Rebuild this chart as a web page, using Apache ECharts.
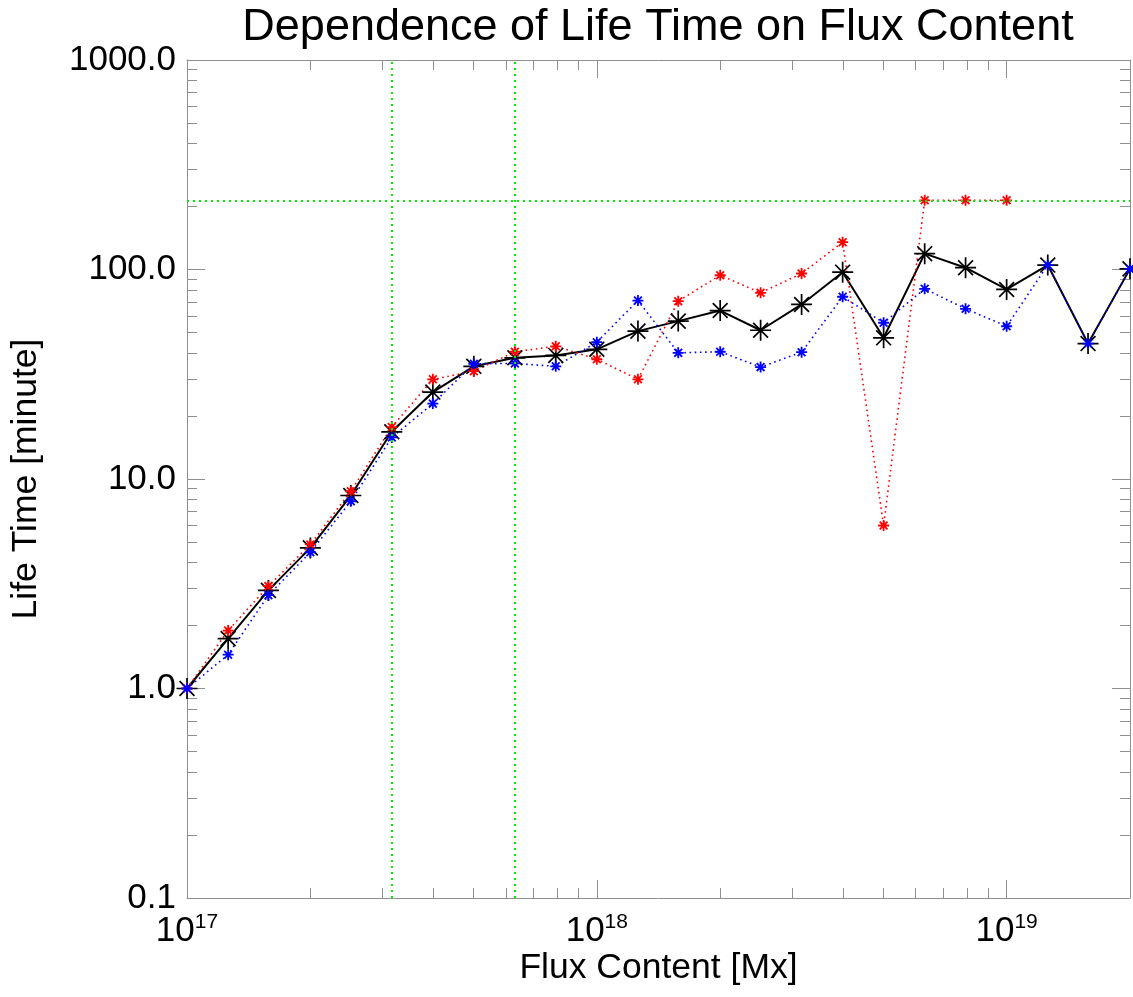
<!DOCTYPE html>
<html>
<head>
<meta charset="utf-8">
<title>Dependence of Life Time on Flux Content</title>
<script src="https://cdn.jsdelivr.net/npm/echarts@6/dist/echarts.min.js"></script>
<style>
  html, body { margin: 0; padding: 0; background: #fff; }
  #chart { width: 1133px; height: 997px; }
</style>
</head>
<body>
<div id="chart"></div>
<script>
// Flux bins [Mx]
const flux = [
  1.00e17, 1.26e17, 1.58e17, 2.00e17, 2.51e17, 3.16e17, 3.98e17, 5.01e17,
  6.31e17, 7.94e17, 1.00e18, 1.26e18, 1.58e18, 2.00e18, 2.51e18, 3.16e18,
  3.98e18, 5.01e18, 6.31e18, 7.94e18, 1.00e19, 1.26e19, 1.58e19, 2.00e19
];

// Life time [minute] per flux bin
const lifeAll = [
  1.0, 1.73, 2.94, 4.69, 8.34, 16.8, 26.0, 34.5,
  37.9, 38.9, 41.6, 50.8, 56.7, 63.7, 51.3, 68.1,
  97.1, 47.2, 119, 102, 80.3, 105, 44.3, 100.7
];
const lifeRed = [
  1.0, 1.89, 3.08, 4.87, 8.74, 17.7, 29.9, 32.7,
  40.5, 43.0, 37.3, 29.9, 70.6, 93.9, 77.4, 95.7,
  135, 6.0, 214, 214, 214
];
const lifeBlue = [
  1.0, 1.45, 2.79, 4.47, 7.83, 15.8, 22.9, 35.5,
  35.6, 34.5, 45.0, 71.1, 40.0, 40.5, 34.2, 40.3,
  74.1, 55.7, 80.9, 64.9, 53.6, 105, 44.3, 100.7
];

// Reference levels
const fluxMarks = [3.16e17, 6.31e17];
const lifeMark = 214;

// Axis ticks
const xMajorTicks = [1e17, 1e18, 1e19];
const xMinorTicks = [
  2e17, 3e17, 4e17, 5e17, 6e17, 7e17, 8e17, 9e17,
  2e18, 3e18, 4e18, 5e18, 6e18, 7e18, 8e18, 9e18, 2e19
];
const yMajorTicks = [0.1, 1, 10, 100, 1000];
const yMinorTicks = [
  0.2, 0.3, 0.4, 0.5, 0.6, 0.7, 0.8, 0.9,
  2, 3, 4, 5, 6, 7, 8, 9,
  20, 30, 40, 50, 60, 70, 80, 90,
  200, 300, 400, 500, 600, 700, 800, 900
];

const FONT = "'Liberation Sans', Arial, Helvetica, sans-serif";
const AXIS_GRAY = '#8f8f8f';
const STAR = 'path://M0,10L20,10M10,0L10,20M2.93,2.93L17.07,17.07M17.07,2.93L2.93,17.07';

const zip = (xs, ys) => ys.map((y, i) => [xs[i], y]);

function xAxisDef(position, ticks, len, withLine, withLabels) {
  return {
    type: 'log', logBase: 10, position: position,
    min: 1e17, max: 2e19,
    axisLine: { show: withLine, onZero: false, lineStyle: { color: AXIS_GRAY, width: 1 } },
    axisTick: { show: true, inside: true, length: len, customValues: ticks,
                lineStyle: { color: AXIS_GRAY, width: 1 } },
    axisLabel: withLabels ? {
      show: true, customValues: ticks, margin: 14,
      formatter: v => '{b|10}{s|' + Math.round(Math.log10(v)) + '}',
      rich: {
        b: { fontFamily: FONT, fontSize: 35, color: '#000', lineHeight: 38 },
        s: { fontFamily: FONT, fontSize: 21, color: '#000', lineHeight: 22, verticalAlign: 'top' }
      }
    } : { show: false },
    splitLine: { show: false },
    minorTick: { show: false },
    name: withLabels ? 'Flux Content [Mx]' : '',
    nameLocation: 'middle', nameGap: 52, nameMoveOverlap: false,
    nameTextStyle: { fontFamily: FONT, fontSize: 35.5, color: '#000' }
  };
}

function yAxisDef(position, ticks, len, withLine, withLabels) {
  return {
    type: 'log', logBase: 10, position: position,
    min: 0.1, max: 1000,
    axisLine: { show: withLine, onZero: false, lineStyle: { color: AXIS_GRAY, width: 1 } },
    axisTick: { show: true, inside: true, length: len, customValues: ticks,
                lineStyle: { color: AXIS_GRAY, width: 1 } },
    axisLabel: withLabels ? {
      show: true, customValues: ticks, margin: 11,
      formatter: v => Number(v).toFixed(1),
      fontFamily: FONT, fontSize: 35, color: '#000'
    } : { show: false },
    splitLine: { show: false },
    minorTick: { show: false },
    name: withLabels ? 'Life Time [minute]' : '',
    nameLocation: 'middle', nameGap: 143, nameMoveOverlap: false,
    nameTextStyle: { fontFamily: FONT, fontSize: 35.5, color: '#000' }
  };
}

const chart = echarts.init(document.getElementById('chart'), null, { renderer: 'canvas' });

chart.setOption({
  animation: false,
  backgroundColor: '#fff',
  graphic: [{
    type: 'text', x: 658, y: 5, silent: true,
    style: {
      text: 'Dependence of Life Time on Flux Content',
      font: '45px ' + FONT, fill: '#000',
      textAlign: 'center', textVerticalAlign: 'top'
    }
  }],
  grid: { left: 187, right: 3, top: 60, bottom: 99, outerBoundsMode: 'none' },
  xAxis: [
    xAxisDef('bottom', xMajorTicks, 18, true, true),
    xAxisDef('bottom', xMinorTicks, 10, false, false),
    xAxisDef('top', xMajorTicks, 18, true, false),
    xAxisDef('top', xMinorTicks, 10, false, false)
  ],
  yAxis: [
    yAxisDef('left', yMajorTicks, 18, true, true),
    yAxisDef('left', yMinorTicks, 10, false, false),
    yAxisDef('right', yMajorTicks, 18, true, false),
    yAxisDef('right', yMinorTicks, 10, false, false)
  ],
  series: [
    {
      name: 'all', type: 'line', xAxisIndex: 0, yAxisIndex: 0,
      data: zip(flux, lifeAll),
      symbol: STAR, symbolSize: 21, showSymbol: true,
      lineStyle: { color: '#000', width: 2 },
      itemStyle: { color: '#000', borderColor: '#000', borderWidth: 1.7 },
      emphasis: { disabled: true }, silent: true,
      markLine: {
        silent: true, symbol: 'none', animation: false,
        label: { show: false },
        lineStyle: { color: '#00ee00', width: 2, type: [2, 4] },
        emphasis: { disabled: true },
        data: fluxMarks.map(v => ({ xAxis: v })).concat([{ yAxis: lifeMark }])
      }
    },
    {
      name: 'red', type: 'line', xAxisIndex: 0, yAxisIndex: 0,
      data: zip(flux, lifeRed),
      symbol: STAR, symbolSize: 11, showSymbol: true,
      lineStyle: { color: '#ff0000', width: 1.6, type: [1.6, 3.6] },
      itemStyle: { color: '#ff0000', borderColor: '#ff0000', borderWidth: 1.8 },
      emphasis: { disabled: true }, silent: true
    },
    {
      name: 'blue', type: 'line', xAxisIndex: 0, yAxisIndex: 0,
      data: zip(flux, lifeBlue),
      symbol: STAR, symbolSize: 11, showSymbol: true,
      lineStyle: { color: '#0000ff', width: 1.6, type: [1.6, 3.6] },
      itemStyle: { color: '#0000ff', borderColor: '#0000ff', borderWidth: 1.8 },
      emphasis: { disabled: true }, silent: true
    }
  ]
});
</script>
</body>
</html>
